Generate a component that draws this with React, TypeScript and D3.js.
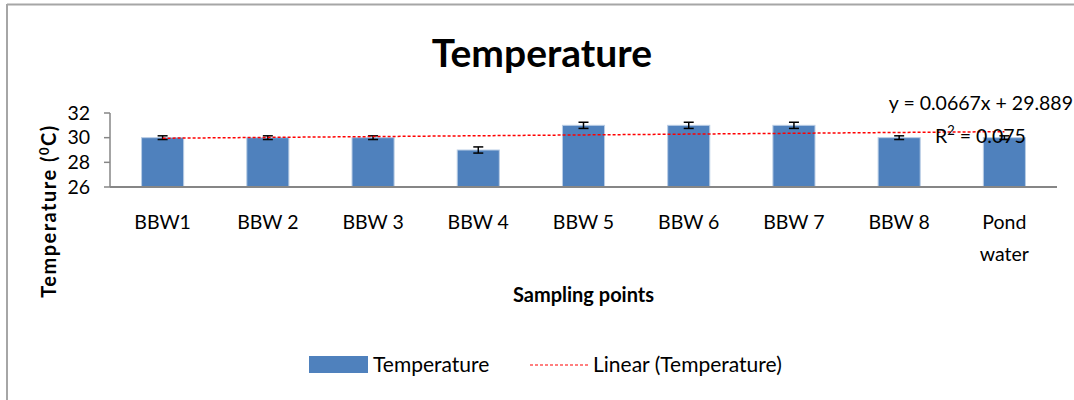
import React, { useEffect, useRef } from "react";
import * as d3 from "d3";

const categories = ["BBW1", "BBW 2", "BBW 3", "BBW 4", "BBW 5", "BBW 6", "BBW 7", "BBW 8", "Pond water"];
const temperature = [30, 30, 30, 29, 31, 31, 31, 30, 30];
const errors = [0.15, 0.15, 0.15, 0.25, 0.25, 0.25, 0.25, 0.15, 0.15];
const yTicks = [26, 28, 30, 32];
const trendSlope = 0.0667;
const trendIntercept = 29.889;

export default function App() {
  const ref = useRef<SVGSVGElement>(null);
  useEffect(() => {
    const svg = d3.select(ref.current);
    svg.selectAll("*").remove();
    const font = "Lato, 'Open Sans', sans-serif";
    const left = 110, right = 1057, top = 113, bottom = 187;
    const fs = 19.5;

    // outer border
    svg.append("line").attr("x1", 7).attr("x2", 1074).attr("y1", 4.5).attr("y2", 4.5).attr("stroke", "#a6a6a6").attr("stroke-width", 2);
    svg.append("line").attr("x1", 7).attr("x2", 7).attr("y1", 4).attr("y2", 400).attr("stroke", "#a6a6a6").attr("stroke-width", 2);

    const x = d3.scaleBand().domain(categories).range([left, right]).paddingInner(0.6).paddingOuter(0.3);
    const y = d3.scaleLinear().domain([26, 32]).range([bottom, top]);

    // title
    svg.append("text").attr("x", 542).attr("y", 67).attr("text-anchor", "middle")
      .attr("font-family", font).attr("font-weight", "bold").attr("font-size", 39).attr("fill", "#000").text("Temperature");

    // bars
    const cx = (c: string) => (x(c) as number) + x.bandwidth() / 2;
    svg.append("g").selectAll("rect").data(categories).join("rect")
      .attr("x", (c) => x(c) as number).attr("width", x.bandwidth())
      .attr("y", (_, i) => y(temperature[i])).attr("height", (_, i) => bottom - y(temperature[i]))
      .attr("fill", "#4f81bd").attr("stroke", "#b9cde5").attr("stroke-width", 1);

    // error bars
    const eg = svg.append("g").attr("stroke", "#000").attr("stroke-width", 1.5);
    categories.forEach((c, i) => {
      const xc = cx(c);
      const y1 = y(temperature[i] + errors[i]);
      const y2 = y(temperature[i] - errors[i]);
      eg.append("line").attr("x1", xc).attr("x2", xc).attr("y1", y1).attr("y2", y2);
      eg.append("line").attr("x1", xc - 5).attr("x2", xc + 5).attr("y1", y1).attr("y2", y1);
      eg.append("line").attr("x1", xc - 5).attr("x2", xc + 5).attr("y1", y2).attr("y2", y2);
    });

    // axes
    svg.append("line").attr("x1", left).attr("x2", left).attr("y1", top).attr("y2", bottom).attr("stroke", "#868686").attr("stroke-width", 1.5);
    svg.append("line").attr("x1", left).attr("x2", right).attr("y1", bottom).attr("y2", bottom).attr("stroke", "#868686").attr("stroke-width", 2);
    yTicks.forEach((t) => {
      svg.append("line").attr("x1", left - 6).attr("x2", left).attr("y1", y(t)).attr("y2", y(t)).attr("stroke", "#868686").attr("stroke-width", 1.5);
      svg.append("text").attr("x", 90).attr("y", y(t)).attr("dy", "0.35em").attr("text-anchor", "end")
        .attr("font-family", font).attr("font-size", fs).attr("fill", "#000").text(String(t));
    });

    // trend line
    const line = d3.line<number>().x((i) => cx(categories[i])).y((i) => y(trendIntercept + trendSlope * (i + 1)));
    svg.append("path").datum(d3.range(categories.length)).attr("d", line)
      .attr("fill", "none").attr("stroke", "#ff0000").attr("stroke-width", 1.5).attr("stroke-dasharray", "3,2");

    // x labels
    categories.forEach((c) => {
      const parts = c === "Pond water" ? ["Pond", "water"] : [c];
      parts.forEach((p, k) => {
        svg.append("text").attr("x", cx(c)).attr("y", 229 + k * 32).attr("text-anchor", "middle")
          .attr("font-family", font).attr("font-size", fs).attr("fill", "#000").text(p);
      });
    });

    // axis titles
    svg.append("text").attr("x", (left + right) / 2).attr("y", 302).attr("text-anchor", "middle")
      .attr("font-family", font).attr("font-weight", "bold").attr("font-size", 20).attr("fill", "#000").text("Sampling points");
    const yt = svg.append("text").attr("transform", "translate(56,211) rotate(-90)").attr("text-anchor", "middle")
      .attr("font-family", font).attr("font-weight", "bold").attr("font-size", 20).attr("letter-spacing", 1.5).attr("fill", "#000");
    yt.append("tspan").text("Temperature (");
    yt.append("tspan").attr("font-size", 13).attr("dy", -7).text("0");
    yt.append("tspan").attr("dy", 7).text("C)");

    // equation
    svg.append("text").attr("x", 1073).attr("y", 110).attr("text-anchor", "end")
      .attr("font-family", font).attr("font-size", fs).attr("fill", "#000").text("y = 0.0667x + 29.889");
    const r2 = svg.append("text").attr("x", 935).attr("y", 143)
      .attr("font-family", font).attr("font-size", fs).attr("fill", "#000");
    r2.append("tspan").text("R");
    r2.append("tspan").attr("font-size", 13).attr("dy", -8).text("2");
    r2.append("tspan").attr("dy", 8).text(" = 0.075");

    // legend
    svg.append("rect").attr("x", 309).attr("y", 356).attr("width", 59).attr("height", 17).attr("fill", "#4f81bd");
    svg.append("text").attr("x", 373).attr("y", 365).attr("dy", "0.35em")
      .attr("font-family", font).attr("font-size", 21).attr("fill", "#000").text("Temperature");
    svg.append("line").attr("x1", 530).attr("x2", 588).attr("y1", 365).attr("y2", 365)
      .attr("stroke", "#ff0000").attr("stroke-width", 1.2).attr("stroke-dasharray", "3,2");
    svg.append("text").attr("x", 593).attr("y", 365).attr("dy", "0.35em")
      .attr("font-family", font).attr("font-size", 21).attr("fill", "#000").text("Linear (Temperature)");
  }, []);
  return (
    <svg ref={ref} width={1074} height={400} style={{ position: "absolute", left: 0, top: 0, background: "#fff" }} />
  );
}
